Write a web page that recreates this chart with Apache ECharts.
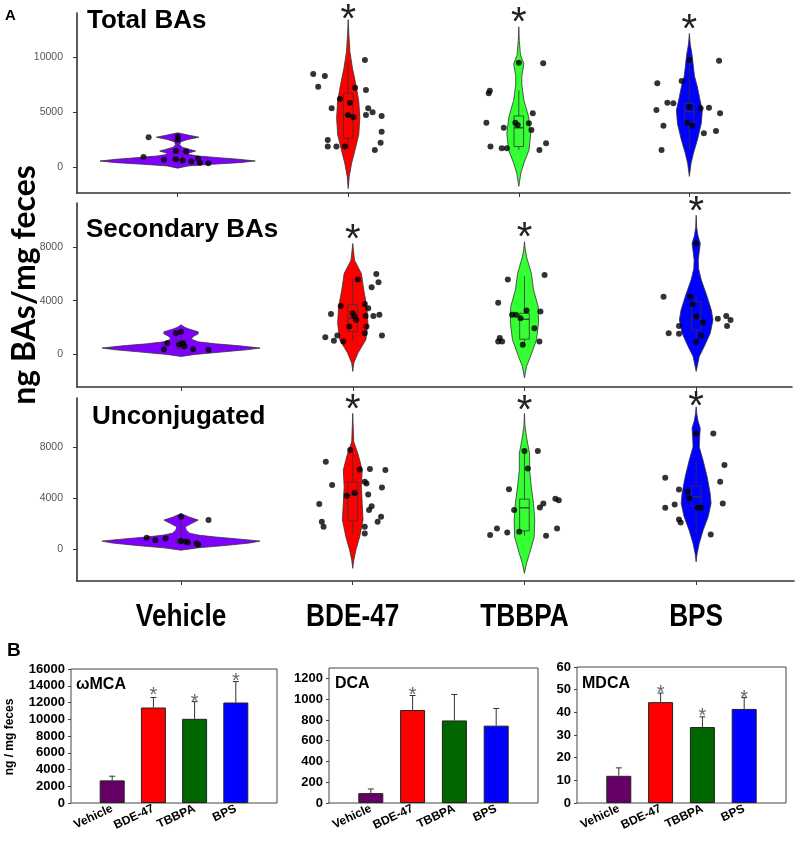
<!DOCTYPE html>
<html><head><meta charset="utf-8">
<script src="https://cdn.jsdelivr.net/npm/echarts@6/dist/echarts.min.js"></script>
<style>html,body{margin:0;padding:0;background:#fff}#c{width:800px;height:842px}</style>
</head><body><div id="c"></div>
<script>
// ---------- DATA ----------
const categories = ['Vehicle', 'BDE-47', 'TBBPA', 'BPS'];
const panelTitles = ['Total BAs', 'Secondary BAs', 'Unconjugated'];
const yAxisNameA = 'ng BAs/mg feces';
const yAxisNameB = 'ng / mg feces';
const yTicksTotal = [0, 5000, 10000];
const yTicksSecondary = [0, 4000, 8000];
const yTicksUnconj = [0, 4000, 8000];

// violin outlines: [value, half-width in category units]
const violinTotal = [
  [[-50,0],[150,0.06],[300,0.2],[450,0.36],[600,0.455],[750,0.36],[900,0.24],[1050,0.12],[1200,0.06],[1350,0.07],[1500,0.105],[1650,0.07],[1850,0.025],[2100,0.012],[2350,0.02],[2550,0.06],[2750,0.125],[2950,0.06],[3150,0]],
  [[-1900,0],[-800,0.006],[400,0.02],[1600,0.04],[3000,0.062],[4500,0.068],[6000,0.062],[7500,0.045],[9000,0.025],[10500,0.01],[12000,0.004],[13400,0]],
  [[-1700,0],[-500,0.012],[400,0.03],[1600,0.06],[3100,0.07],[4600,0.058],[6100,0.03],[7500,0.018],[8300,0.018],[9400,0.03],[10200,0.01],[11500,0.003],[12750,0]],
  [[-800,0],[400,0.01],[1300,0.024],[2500,0.047],[4000,0.07],[5200,0.076],[6300,0.06],[7300,0.047],[8300,0.03],[9100,0.024],[10300,0.015],[11200,0.005],[12150,0]]
];
const violinSecondary = [
  [[-200,0],[-50,0.08],[150,0.25],[300,0.38],[430,0.46],[600,0.34],[750,0.2],[900,0.1],[1100,0.06],[1300,0.07],[1500,0.1],[1650,0.1],[1850,0.05],[2000,0.02],[2180,0]],
  [[-1330,0],[-700,0.006],[50,0.03],[1050,0.076],[2300,0.088],[3550,0.082],[4800,0.064],[6050,0.05],[7050,0.01],[7800,0.004],[8300,0]],
  [[-1820,0],[-950,0.012],[-200,0.035],[1050,0.07],[2300,0.082],[3550,0.08],[4800,0.053],[6050,0.04],[7300,0.012],[7900,0.004],[8430,0]],
  [[-1330,0],[-200,0.018],[550,0.047],[1550,0.082],[2550,0.098],[3300,0.088],[4300,0.064],[5550,0.03],[6400,0.014],[7050,0.012],[7700,0.018],[8300,0.024],[8900,0.01],[9500,0.003],[10430,0]]
];
const violinUnconj = [
  [[-80,0],[100,0.1],[300,0.27],[480,0.4],[630,0.46],[800,0.33],[950,0.2],[1100,0.1],[1250,0.05],[1500,0.03],[1750,0.025],[2000,0.06],[2275,0.1],[2500,0.05],[2700,0.015],[2800,0]],
  [[-1510,0],[-860,0.006],[-80,0.018],[960,0.04],[2275,0.06],[3580,0.055],[4890,0.05],[6200,0.055],[7500,0.03],[8400,0.006],[9500,0.003],[10640,0]],
  [[-1900,0],[-1120,0.012],[-340,0.03],[960,0.057],[2275,0.06],[3580,0.053],[4890,0.04],[6200,0.03],[7500,0.03],[8200,0.02],[8800,0.012],[9700,0.003],[10640,0]],
  [[-1000,0],[-340,0.006],[450,0.018],[1490,0.041],[2530,0.07],[3580,0.087],[4370,0.082],[5670,0.064],[6980,0.04],[8020,0.018],[8700,0.02],[9470,0.024],[10100,0.01],[10600,0.004],[11160,0]]
];

// box plots: [low whisker, q1, median, q3, high whisker]
const boxTotal = [[400,600,750,1450,2800],[1600,2660,4765,6730,9740],[1600,1900,3600,4675,7000],[1600,4015,5060,5820,9740]];
const boxSecondary = [[300,400,600,1000,1650],[925,1670,2680,3680,5700],[675,1100,2600,3050,5850],[880,1800,2680,3920,4300]];
const boxUnconj = [[350,450,600,800,2300],[1230,2220,4235,5280,7765],[1040,1430,3240,3920,7630],[1150,3370,4100,4940,7000]];

// jittered points: [x (category + jitter), value]
const pointsTotal = [
  [0.83,2750],[0.8,950],[0.92,700],[1.0,2800],[1.0,2550],[0.99,1500],[1.05,1450],[0.99,750],[1.03,650],[1.08,550],[1.12,800],[1.13,450],[1.18,400],
  [1.795,8470],[1.863,8290],[1.824,7325],[2.098,9740],[2.04,7235],[2.104,7025],[1.951,6210],[1.903,5370],[2.01,5880],[2.117,5370],[2.143,5010],[2.104,4765],[2.0,4765],[2.03,4555],[2.196,4675],[2.196,3255],[2.19,2260],[2.156,1600],[1.88,2505],[1.88,1900],[1.931,1900],[1.98,1900],
  [3.143,9440],[2.83,6960],[2.824,6730],[2.81,4070],[2.912,3620],[2.98,4070],[2.994,3860],[3.059,4015],[3.082,4920],[3.074,3410],[2.834,1900],[2.9,1750],[2.93,1750],[3.121,1600],[3.16,2205],[3.0,9500],
  [4.174,9675],[3.812,7630],[3.955,7840],[4.0,9740],[3.871,5880],[3.906,5820],[4.0,5515],[4.066,5370],[4.115,5425],[3.807,5220],[4.18,4920],[3.988,4070],[4.018,3800],[3.848,3800],[4.085,3110],[4.156,3320],[3.837,1600]
];
const pointsSecondary = [
  [0.9,350],[0.92,800],[0.97,1550],[1.0,1650],[0.99,700],[1.01,800],[1.02,550],[1.07,350],[1.16,300],
  [2.137,6000],[2.15,5380],[2.11,5000],[2.03,5600],[1.873,3000],[1.93,3600],[2.0,3050],[2.01,2800],[2.02,2550],[2.07,3750],[2.09,3430],[2.075,2850],[2.12,2850],[2.155,2930],[1.98,2050],[2.08,2050],[2.07,1550],[2.17,1370],[1.84,1250],[1.89,975],[1.91,1370],[1.945,925],
  [3.117,5930],[2.903,5600],[2.847,3850],[2.928,2930],[2.95,2930],[3.012,3250],[2.977,2680],[3.093,3175],[3.058,1930],[2.856,1180],[2.87,925],[2.847,925],[2.99,675],[3.087,925],
  [4.0,8300],[3.81,4300],[3.965,4300],[3.98,3730],[4.126,2630],[4.175,2850],[4.2,2550],[4.18,2100],[4.04,2350],[4.0,2800],[3.9,2100],[3.84,1550],[3.9,1500],[4.03,1370],[4.0,880]
];
const pointsUnconj = [
  [1.16,2275],[1.0,2530],[0.8,890],[0.85,705],[0.91,840],[1.0,630],[1.03,575],[1.04,525],[1.09,450],[1.1,370],
  [1.985,7765],[1.843,6850],[1.88,5020],[2.04,6250],[2.1,6275],[2.19,6200],[2.07,5280],[2.08,5150],[2.17,4840],[1.965,4180],[2.01,4415],[2.09,4290],[1.805,3530],[2.11,3370],[2.095,3060],[2.165,2530],[2.145,2140],[1.82,2140],[1.83,1750],[2.07,1750],[2.07,1230],
  [3.078,7690],[3.0,7690],[3.02,6330],[2.91,4700],[2.94,3060],[3.09,3270],[3.11,3580],[3.18,3950],[3.2,3840],[2.84,1620],[2.8,1100],[2.9,1310],[2.97,1360],[3.126,1040],[3.19,1620],
  [4.1,9070],[4.0,9070],[4.165,6590],[3.82,5600],[4.14,5280],[3.9,4680],[3.95,4500],[3.96,3980],[3.875,3500],[3.82,3240],[4.155,3580],[4.01,3240],[4.03,3240],[3.9,2330],[3.91,2090],[4.085,1150]
];
// significance asterisks: [category, value]
const starsTotal = [[2,14100],[3,13800],[4,13200]];
const starsSecondary = [[2,9180],[3,9300],[4,11300]];
const starsUnconj = [[2,11550],[3,11430],[4,11740]];

// panel B
const barTitles = ['ωMCA', 'DCA', 'MDCA'];
const barMCA = [2700, 11400, 10050, 12000];
const errMCA = [3200, 12600, 12100, 14500];
const starMCA = [null, 13300, 12500, 15000];
const barDCA = [95, 895, 795, 745];
const errDCA = [135, 1035, 1045, 910];
const starDCA = [null, 1075, null, null];
const barMDCA = [12, 44.5, 33.5, 41.5];
const errMDCA = [15.5, 48.5, 38, 46.5];
const starMDCA = [null, 50.2, 40, 48];
const yTicksMCA = [0,2000,4000,6000,8000,10000,12000,14000,16000];
const yTicksDCA = [0,200,400,600,800,1000,1200];
const yTicksMDCA = [0,10,20,30,40,50,60];

// ---------- STYLE ----------
const violinColors = ['#7f00ff', '#ff0000', '#33ff33', '#0000ff'];
const barColors = ['#660066', '#ff0000', '#006600', '#0000ff'];
const AX = '#333';
const SANS = 'Liberation Sans, Arial, sans-serif';
const plain = v => String(v);

const gridsA = [
  {left: 77, right: 10, top: 13, height: 180},
  {left: 77, right: 8, top: 203, height: 184},
  {left: 77, right: 6, top: 398, height: 183}
];
const xRangeA = [[0.41, 4.59], [0.394, 4.558], [0.394, 4.57]];
const yRangeA = [[-2300, 14000], [-2500, 11350], [-2500, 11850]];
const yTicksA = [yTicksTotal, yTicksSecondary, yTicksUnconj];
const violinsA = [violinTotal, violinSecondary, violinUnconj];
const boxesA = [boxTotal, boxSecondary, boxUnconj];
const pointsA = [pointsTotal, pointsSecondary, pointsUnconj];
const starsA = [starsTotal, starsSecondary, starsUnconj];

const gridsB = [
  {left: 71, top: 669, width: 206, height: 134, show: true, borderColor: '#444', borderWidth: 1},
  {left: 329, top: 668, width: 209, height: 135, show: true, borderColor: '#444', borderWidth: 1},
  {left: 577, top: 667, width: 209, height: 136, show: true, borderColor: '#444', borderWidth: 1}
];
const yMaxB = [16000, 1300, 60];
const yTicksB = [yTicksMCA, yTicksDCA, yTicksMDCA];
const barsB = [barMCA, barDCA, barMDCA];
const errsB = [errMCA, errDCA, errMDCA];
const starsB = [starMCA, starDCA, starMDCA];

const grid = [], xAxis = [], yAxis = [], series = [];

gridsA.forEach((g, k) => {
  grid.push(g);
  xAxis.push({
    type: 'value', gridIndex: k, min: xRangeA[k][0], max: xRangeA[k][1],
    axisLine: {show: true, onZero: false, lineStyle: {color: AX, width: 1.6}},
    axisTick: {show: true, customValues: [1,2,3,4], length: 4, lineStyle: {color: AX}},
    splitLine: {show: false},
    axisLabel: {show: false}
  });
  yAxis.push({
    type: 'value', gridIndex: k, min: yRangeA[k][0], max: yRangeA[k][1],
    axisLine: {show: true, onZero: false, lineStyle: {color: AX, width: 1.6}},
    axisTick: {show: true, customValues: yTicksA[k], length: 4, lineStyle: {color: AX}},
    axisLabel: {customValues: yTicksA[k], formatter: plain, color: '#555', fontSize: 10.5, fontFamily: SANS, margin: 14},
    splitLine: {show: false}
  });
  const prof = violinsA[k];
  series.push({
    type: 'custom', xAxisIndex: k, yAxisIndex: k, clip: false, z: 2, silent: true,
    data: prof.map((p, i) => [i + 1, p[0][0], p[p.length - 1][0]]),
    encode: {x: 0, y: [1, 2]},
    renderItem: (params, api) => {
      const i = params.dataIndex, c = i + 1, p = prof[i];
      const right = p.map(([v, w]) => api.coord([c + w, v]));
      const left = p.slice().reverse().map(([v, w]) => api.coord([c - w, v]));
      return {type: 'polygon', shape: {points: right.concat(left)},
        style: {fill: violinColors[i], stroke: '#333', lineWidth: 0.8}};
    }
  });
  const boxes = boxesA[k];
  series.push({
    type: 'custom', xAxisIndex: k, yAxisIndex: k, clip: false, z: 3, silent: true,
    data: boxes.map((b, i) => [i + 1].concat(b)),
    encode: {x: 0, y: [1, 5]},
    renderItem: (params, api) => {
      const c = api.value(0);
      const lo = api.value(1), q1 = api.value(2), md = api.value(3), q3 = api.value(4), hi = api.value(5);
      const hw = 0.028;
      const tl = api.coord([c - hw, q3]), br = api.coord([c + hw, q1]);
      const st = {stroke: '#333', lineWidth: 0.8, fill: null};
      const pHi = api.coord([c, hi]), pQ3 = api.coord([c, q3]), pQ1 = api.coord([c, q1]), pLo = api.coord([c, lo]);
      const mL = api.coord([c - hw, md]), mR = api.coord([c + hw, md]);
      return {type: 'group', children: [
        {type: 'line', shape: {x1: pHi[0], y1: pHi[1], x2: pQ3[0], y2: pQ3[1]}, style: st},
        {type: 'line', shape: {x1: pQ1[0], y1: pQ1[1], x2: pLo[0], y2: pLo[1]}, style: st},
        {type: 'rect', shape: {x: tl[0], y: tl[1], width: br[0] - tl[0], height: br[1] - tl[1]}, style: st},
        {type: 'line', shape: {x1: mL[0], y1: mL[1], x2: mR[0], y2: mR[1]}, style: {stroke: '#333', lineWidth: 1.2}}
      ]};
    }
  });
  series.push({
    type: 'scatter', xAxisIndex: k, yAxisIndex: k, z: 4, silent: true,
    symbolSize: 6, itemStyle: {color: '#000'}, data: pointsA[k]
  });
  series.push({
    type: 'custom', xAxisIndex: k, yAxisIndex: k, clip: false, z: 5, silent: true,
    data: starsA[k],
    renderItem: (params, api) => {
      const pt = api.coord([api.value(0), api.value(1)]);
      return {type: 'text', x: pt[0], y: pt[1] + 9, style: {text: '*', fontSize: 40, fontFamily: SANS, fill: '#222', align: 'center', verticalAlign: 'middle'}};
    }
  });
});

gridsB.forEach((g, j) => {
  const k = j + 3;
  grid.push(g);
  xAxis.push({
    type: 'value', gridIndex: k, min: 0, max: 5,
    axisLine: {show: false}, axisTick: {show: false}, splitLine: {show: false},
    axisLabel: {customValues: [1,2,3,4], formatter: v => categories[Math.round(v) - 1], rotate: 25,
      fontWeight: 'bold', fontSize: 12, fontFamily: SANS, color: '#000', margin: 5}
  });
  yAxis.push({
    type: 'value', gridIndex: k, min: 0, max: yMaxB[j],
    axisLine: {show: false}, splitLine: {show: false},
    axisTick: {show: true, customValues: yTicksB[j], length: 3, lineStyle: {color: '#444'}},
    axisLabel: {customValues: yTicksB[j], formatter: plain, fontWeight: 'bold', fontSize: 13, fontFamily: SANS, color: '#000', margin: 6}
  });
  series.push({
    type: 'bar', xAxisIndex: k, yAxisIndex: k, barWidth: 25, silent: true, z: 2,
    data: barsB[j].map((v, i) => ({value: [i + 1, v], itemStyle: {color: barColors[i]}})),
    itemStyle: {borderColor: '#222', borderWidth: 1}
  });
  series.push({
    type: 'custom', xAxisIndex: k, yAxisIndex: k, clip: false, z: 3, silent: true,
    data: errsB[j].map((e, i) => [i + 1, barsB[j][i], e]),
    encode: {x: 0, y: [1, 2]},
    renderItem: (params, api) => {
      const c = api.value(0);
      const a = api.coord([c, api.value(1)]), b = api.coord([c, api.value(2)]);
      const st = {stroke: '#333', lineWidth: 1};
      return {type: 'group', children: [
        {type: 'line', shape: {x1: a[0], y1: a[1], x2: b[0], y2: b[1]}, style: st},
        {type: 'line', shape: {x1: b[0] - 3, y1: b[1], x2: b[0] + 3, y2: b[1]}, style: st}
      ]};
    }
  });
  series.push({
    type: 'custom', xAxisIndex: k, yAxisIndex: k, clip: false, z: 4, silent: true,
    data: starsB[j].map((s, i) => [i + 1, s]).filter(d => d[1] !== null),
    renderItem: (params, api) => {
      const pt = api.coord([api.value(0), api.value(1)]);
      return {type: 'text', x: pt[0], y: pt[1] + 4, style: {text: '*', fontSize: 20, fontFamily: SANS, fill: '#666', align: 'center', verticalAlign: 'middle'}};
    }
  });
});

const titleTop = [8, 217, 404];
const titleLeft = [87, 86, 92];
const graphic = [
  {type: 'text', x: 5, y: 8, style: {text: 'A', fontSize: 15, fontWeight: 'bold', fontFamily: SANS, fill: '#000'}},
  {type: 'text', x: 7, y: 641, style: {text: 'B', fontSize: 19, fontWeight: 'bold', fontFamily: SANS, fill: '#000'}},
  {type: 'text', x: 25, y: 285, rotation: Math.PI / 2,
    style: {text: yAxisNameA, fontSize: 32, fontWeight: 'bold', fontFamily: 'Lato, Open Sans, sans-serif', fill: '#000', align: 'center', verticalAlign: 'middle'}},
  {type: 'text', x: 10, y: 737, rotation: Math.PI / 2,
    style: {text: yAxisNameB, fontSize: 12, fontWeight: 'bold', fontFamily: SANS, fill: '#000', align: 'center', verticalAlign: 'middle'}}
];
panelTitles.forEach((t, k) => graphic.push({type: 'text', x: titleLeft[k], y: titleTop[k],
  style: {text: t, fontSize: 26, fontWeight: 'bold', fontFamily: SANS, fill: '#000'}}));
const barTitlePos = [[76, 677], [335, 676], [582, 676]];
barTitles.forEach((t, j) => graphic.push({type: 'text', x: barTitlePos[j][0], y: barTitlePos[j][1],
  style: {text: t, fontSize: 16, fontWeight: 'bold', fontFamily: SANS, fill: '#000'}}));

const chart = echarts.init(document.getElementById('c'), null, {renderer: 'canvas'});
chart.setOption({animation: false, backgroundColor: '#fff', grid, xAxis, yAxis, series, graphic});

// category labels under panel A (condensed bold), placed through the bottom panel's x axis
const catLabels = categories.map((c, i) => {
  const p = chart.convertToPixel({xAxisIndex: 2, yAxisIndex: 2}, [i + 1, yRangeA[2][0]]);
  return {type: 'text', x: p[0], y: p[1] + 36, scaleX: 0.82,
    style: {text: c, fontSize: 32, fontWeight: 'bold', fontFamily: SANS, fill: '#000', align: 'center', verticalAlign: 'middle'}};
});
chart.setOption({graphic: graphic.concat(catLabels)});
</script></body></html>
